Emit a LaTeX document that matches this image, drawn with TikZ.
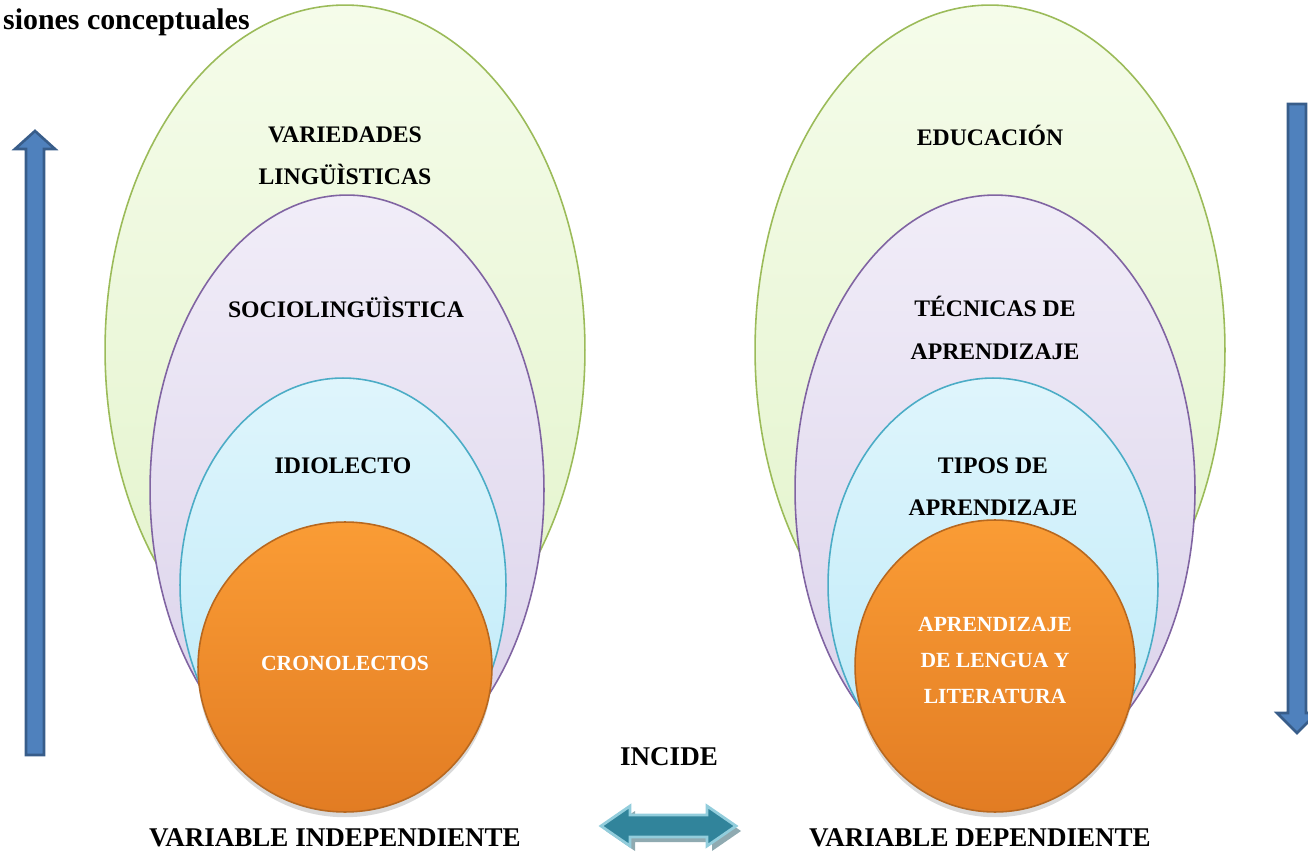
\documentclass[tikz,border=0pt]{standalone}
\usepackage{fontspec}
\setmainfont{Liberation Serif}
\usetikzlibrary{shapes.geometric,shadows}
\pgfdeclarelayer{bg}
\pgfsetlayers{bg,main}

\definecolor{greenline}{HTML}{9BBB59}
\definecolor{greentop}{HTML}{F5FCEA}
\definecolor{greenbot}{HTML}{E2F3CA}
\definecolor{violetline}{HTML}{8064A2}
\definecolor{violettop}{HTML}{F1EDF8}
\definecolor{violetbot}{HTML}{DAD1EA}
\definecolor{cyanline}{HTML}{4BACC6}
\definecolor{cyantop}{HTML}{DFF5FC}
\definecolor{cyanbot}{HTML}{BCEAF8}
\definecolor{orangeline}{HTML}{B8681F}
\definecolor{orangetop}{HTML}{FA9C35}
\definecolor{orangebot}{HTML}{E27C23}
\definecolor{arrowfill}{HTML}{4F81BD}
\definecolor{arrowline}{HTML}{385D8A}
\definecolor{tealfill}{HTML}{31849B}
\definecolor{tealline}{HTML}{92CDDC}

\begin{document}
\begin{tikzpicture}[x=0.02cm,y=-0.02cm,
  oval/.style={ellipse,inner sep=0pt,line width=0.9pt},
  outer/.style={oval,draw=greenline,top color=greentop,bottom color=greenbot},
  middle/.style={oval,draw=violetline,top color=violettop,bottom color=violetbot},
  inner/.style={oval,draw=cyanline,top color=cyantop,bottom color=cyanbot},
  core/.style={oval,draw=orangeline,top color=orangetop,bottom color=orangebot,
    drop shadow={shadow xshift=0pt,shadow yshift=-3pt,opacity=0.3}},
  lbl/.style={align=center,font=\fontsize{13.5}{24}\selectfont\bfseries},
  corelbl/.style={align=center,text=white,font=\fontsize{12.3}{20.5}\selectfont\bfseries},
  bigtxt/.style={font=\fontsize{15.4}{18}\selectfont\bfseries},
  blockarrow/.style={fill=arrowfill,draw=arrowline,line width=1.5pt,line join=miter}]
  \useasboundingbox (0,0) rectangle (1308,854);

  % independent variable
  \node [outer,minimum width=9.6cm,minimum height=13.8cm] (varied) at (345,350) {};
  \node [middle,minimum width=7.88cm,minimum height=11.8cm] (socio) at (347,490) {};
  \node [inner,minimum width=6.52cm,minimum height=8.28cm] (idio) at (343,585) {};
  \node [core,minimum width=5.88cm,minimum height=5.8cm] (crono) at (345,667) {};
  \node [lbl] (variedtxt) at (345,156) {VARIEDADES\\LINGÜÌSTICAS};
  \node [lbl] (sociotxt) at (346,307) {SOCIOLINGÜÌSTICA};
  \node [lbl] (idiotxt) at (343,466) {IDIOLECTO};
  \node [corelbl] (cronotxt) at (345,663) {CRONOLECTOS};

  % dependent variable
  \node [outer,minimum width=9.4cm,minimum height=13.8cm] (educ) at (990,350) {};
  \node [middle,minimum width=8.0cm,minimum height=11.8cm] (tecn) at (995,490) {};
  \node [inner,minimum width=6.6cm,minimum height=8.28cm] (tipos) at (993,585) {};
  \node [core,minimum width=5.6cm,minimum height=5.84cm] (aprend) at (995,666) {};
  \node [lbl] (eductxt) at (990,135) {EDUCACIÓN};
  \node [lbl] (tecntxt) at (995,328) {TÉCNICAS DE\\APRENDIZAJE};
  \node [lbl] (tipostxt) at (993,487) {TIPOS DE\\APRENDIZAJE};
  \node [corelbl] (aprendtxt) at (995,660) {APRENDIZAJE\\DE LENGUA Y\\LITERATURA};

  % texts
  \node [bigtxt,font=\fontsize{17}{20}\selectfont\bfseries,anchor=west] (title) at (-3,22) {siones conceptuales};
  \node [bigtxt] (indep) at (335,838) {VARIABLE INDEPENDIENTE};
  \node [bigtxt] (dep) at (980,838) {VARIABLE DEPENDIENTE};
  \node [bigtxt] (incide) at (669,757) {INCIDE};

  % side arrows
  \draw [blockarrow] (26,755) -- (26,149) -- (15,149) -- (35,131) -- (55,149)
    -- (44,149) -- (44,755) -- cycle;
  \draw [blockarrow] (1288,104) -- (1288,713) -- (1277,713) -- (1297,733)
    -- (1317,713) -- (1306,713) -- (1306,104) -- cycle;

  % double arrow
  \begin{pgfonlayer}{bg}    % shadow under the arrow
    \fill [black!35!tealline!70] (606,831) -- (635,811) -- (635,820) -- (712,820)
      -- (712,811) -- (741,831) -- (712,851) -- (712,842) -- (635,842)
      -- (635,851) -- cycle;
  \end{pgfonlayer}
  \draw [fill=tealfill,draw=tealline,line width=1.6pt] (601,826) -- (630,806)
    -- (630,815) -- (707,815) -- (707,806) -- (736,826) -- (707,846)
    -- (707,837) -- (630,837) -- (630,846) -- cycle;
\end{tikzpicture}
\end{document}
